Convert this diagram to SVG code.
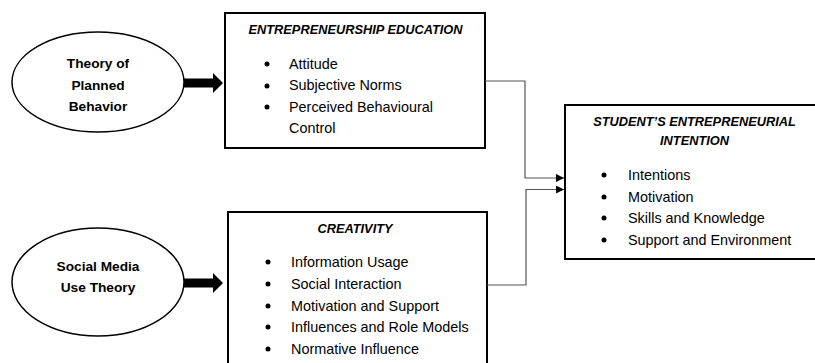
<svg xmlns="http://www.w3.org/2000/svg" width="815" height="363" viewBox="0 0 815 363">
<style>
.box{fill:#fff;stroke:#000;stroke-width:2}
.ell{fill:#fff;stroke:#000;stroke-width:1.5}
.th{font-family:"Liberation Sans",Arial,sans-serif;font-weight:bold;font-size:13.7px;fill:#000;text-anchor:middle}
.ti{font-family:"Liberation Sans",Arial,sans-serif;font-weight:bold;font-style:italic;font-size:12.8px;fill:#000;text-anchor:middle}
.it{font-family:"Liberation Sans",Arial,sans-serif;font-size:14.4px;fill:#000}
.con{fill:none;stroke:#555;stroke-width:1.2}
.thick{fill:#000}
</style>
<defs>
<marker id="ah" viewBox="0 0 10 10" refX="10" refY="5" markerWidth="9" markerHeight="8" markerUnits="userSpaceOnUse" orient="auto">
<path d="M0,0 L10,5 L0,10 z" fill="#000"/>
</marker>
</defs>
<g id="tpb">
<ellipse class="ell" cx="98" cy="82" rx="86" ry="50"/>
<text class="th" x="98" y="68">Theory of</text>
<text class="th" x="98" y="90">Planned</text>
<text class="th" x="98" y="111">Behavior</text>
</g>
<g id="smut">
<ellipse class="ell" cx="98" cy="282" rx="86" ry="54"/>
<text class="th" x="98" y="271">Social Media</text>
<text class="th" x="98" y="292">Use Theory</text>
</g>
<g id="ee">
<rect class="box" x="225" y="13" width="260" height="135"/>
<text class="ti" x="355.5" y="34">ENTREPRENEURSHIP EDUCATION</text>
<circle cx="267" cy="64" r="2.5"/>
<circle cx="267" cy="86" r="2.5"/>
<circle cx="267" cy="107" r="2.5"/>
<text class="it" x="289" y="69">Attitude</text>
<text class="it" x="289" y="90">Subjective Norms</text>
<text class="it" x="289" y="112">Perceived Behavioural</text>
<text class="it" x="289" y="133">Control</text>
</g>
<g id="cr">
<rect class="box" x="228" y="212" width="259" height="160"/>
<text class="ti" x="355" y="233">CREATIVITY</text>
<circle cx="268" cy="262" r="2.5"/>
<circle cx="268" cy="284" r="2.5"/>
<circle cx="268" cy="306" r="2.5"/>
<circle cx="268" cy="327" r="2.5"/>
<circle cx="268" cy="349" r="2.5"/>
<text class="it" x="291" y="267">Information Usage</text>
<text class="it" x="291" y="289">Social Interaction</text>
<text class="it" x="291" y="311">Motivation and Support</text>
<text class="it" x="291" y="332">Influences and Role Models</text>
<text class="it" x="291" y="354">Normative Influence</text>
</g>
<g id="sei">
<rect class="box" x="565" y="105" width="262" height="154"/>
<text class="ti" x="694.5" y="126">STUDENT’S ENTREPRENEURIAL</text>
<text class="ti" x="694.5" y="145">INTENTION</text>
<circle cx="604" cy="175" r="2.5"/>
<circle cx="604" cy="197" r="2.5"/>
<circle cx="604" cy="218" r="2.5"/>
<circle cx="604" cy="240" r="2.5"/>
<text class="it" x="628" y="180">Intentions</text>
<text class="it" x="628" y="202">Motivation</text>
<text class="it" x="628" y="223">Skills and Knowledge</text>
<text class="it" x="628" y="245">Support and Environment</text>
</g>
<g id="connectors">
<path class="thick" d="M184,78.5 L213,78.5 L213,73 L223,83 L213,93 L213,87.5 L184,87.5 z"/>
<path class="thick" d="M184,278.5 L213,278.5 L213,273 L223,283 L213,293 L213,287.5 L184,287.5 z"/>
<path class="con" d="M485,81 L525,81 L525,178 L564,178" marker-end="url(#ah)"/>
<path class="con" d="M487,285 L526,285 L526,189.5 L564,189.5" marker-end="url(#ah)"/>
</g>
</svg>
